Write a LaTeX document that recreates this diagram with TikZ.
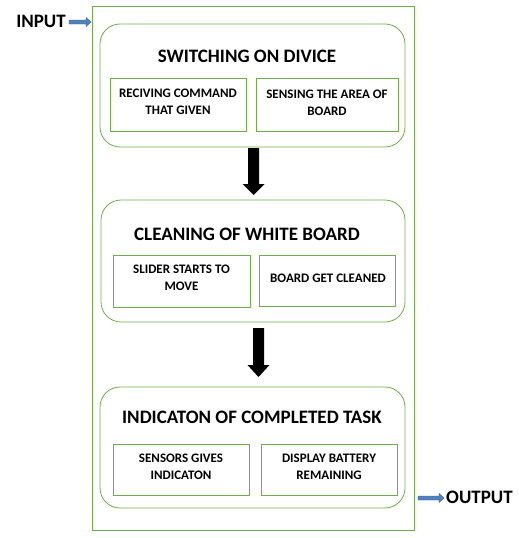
\documentclass[tikz,border=0pt]{standalone}
\usepackage{fontspec}
\setmainfont{Carlito}
\definecolor{grn}{HTML}{70AD47}
\definecolor{bluefill}{HTML}{4F81BD}
\definecolor{blueedge}{HTML}{385D8A}
\begin{document}
\begin{tikzpicture}[x=1pt,y=-1pt,
  outerbox/.style={draw=grn,line width=0.8pt,inner sep=0pt},
  rbox/.style={draw=grn,line width=0.8pt,rounded corners=20pt,inner sep=0pt},
  subbox/.style={draw=grn,line width=0.8pt,inner sep=0pt},
  ttl/.style={font=\bfseries\fontsize{19}{22}\selectfont,inner sep=0pt},
  subtxt/.style={font=\bfseries\fontsize{13}{17}\selectfont,align=center,inner sep=0pt},
  iotxt/.style={font=\bfseries\fontsize{19}{22}\selectfont,inner sep=0pt},
  blockarrow/.style={fill=black},
  bluearrow/.style={fill=bluefill,draw=blueedge,line width=0.4pt}]
\useasboundingbox (0,0) rectangle (519,538);
% outer frame
\node[outerbox,minimum width=322pt,minimum height=524pt] (frame) at (253,268) {};
% block 1
\node[rbox,minimum width=305pt,minimum height=123pt] (b1) at (252.5,85.5) {};
\node[ttl] (t1) at (247,56) {SWITCHING ON DIVICE};
\node[subbox,minimum width=136pt,minimum height=53pt] (s11) at (178,104.5) {};
\node[subbox,minimum width=142pt,minimum height=53pt] (s12) at (327,104.5) {};
\node[subtxt] (x11) at (178,101.5) {RECIVING COMMAND\\THAT GIVEN};
\node[subtxt] (x12) at (327,102.5) {SENSING THE AREA OF\\BOARD};
% block 2
\node[rbox,minimum width=304pt,minimum height=122pt] (b2) at (253,261) {};
\node[ttl] (t2) at (247,234) {CLEANING OF WHITE BOARD};
\node[subbox,minimum width=137pt,minimum height=52pt] (s21) at (181.5,281) {};
\node[subbox,minimum width=136pt,minimum height=51pt] (s22) at (327,280.5) {};
\node[subtxt] (x21) at (181.5,278) {SLIDER STARTS TO\\MOVE};
\node[subtxt] (x22) at (328,278) {BOARD GET CLEANED};
% block 3
\node[rbox,minimum width=305pt,minimum height=121pt] (b3) at (252.5,447.5) {};
\node[ttl] (t3) at (252,417) {INDICATON OF COMPLETED TASK};
\node[subbox,minimum width=136pt,minimum height=51pt] (s31) at (181,469.5) {};
\node[subbox,minimum width=136pt,minimum height=51pt] (s32) at (329,469.5) {};
\node[subtxt] (x31) at (181,466.5) {SENSORS GIVES\\INDICATON};
\node[subtxt] (x32) at (329,466.5) {DISPLAY BATTERY\\REMAINING};
% black block arrows between blocks
\coordinate (a1) at (253.5,148);
\coordinate (a2) at (258.5,328);
\fill[blockarrow] (a1) ++(-5.5,0) -- ++(0,36) -- ++(-5.5,0) -- ++(11,11) -- ++(11,-11) -- ++(-5.5,0) -- ++(0,-36) -- cycle;
\fill[blockarrow] (a2) ++(-5.5,0) -- ++(0,37) -- ++(-5.5,0) -- ++(11,12) -- ++(11,-12) -- ++(-5.5,0) -- ++(0,-37) -- cycle;
% input / output
\node[iotxt,anchor=east] (in) at (66,21) {INPUT};
\node[iotxt,anchor=west] (out) at (446,497) {OUTPUT};
\coordinate (ia) at (69,22);
\coordinate (oa) at (418,498);
\draw[bluearrow] (ia) ++(0,-2) -- ++(17,0) -- ++(0,-2.5) -- ++(5,4.5) -- ++(-5,4.5) -- ++(0,-2.5) -- ++(-17,0) -- cycle;
\draw[bluearrow] (oa) ++(0,-2) -- ++(21,0) -- ++(0,-2.5) -- ++(5,4.5) -- ++(-5,4.5) -- ++(0,-2.5) -- ++(-21,0) -- cycle;
\end{tikzpicture}
\end{document}
